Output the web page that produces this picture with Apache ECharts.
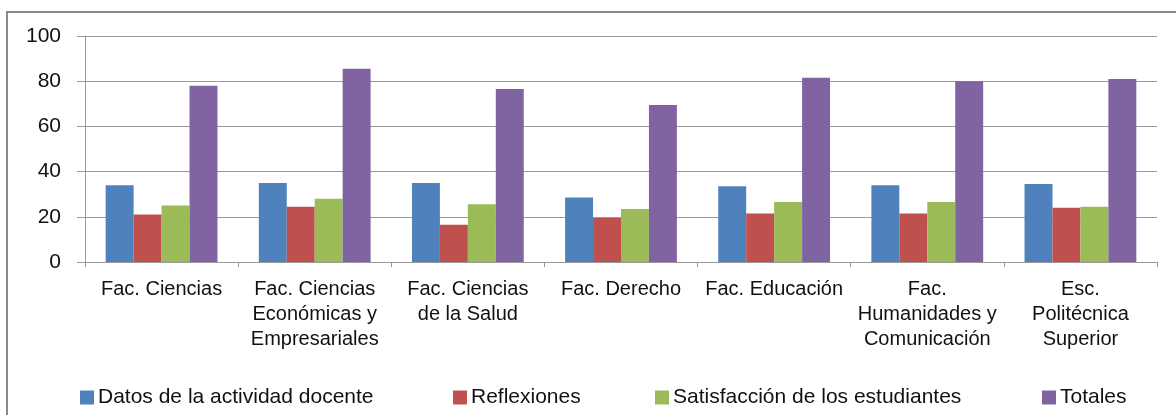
<!DOCTYPE html>
<html>
<head>
<meta charset="utf-8">
<script src="https://cdn.jsdelivr.net/npm/echarts@6/dist/echarts.min.js"></script>
<style>
html, body { margin: 0; padding: 0; background: #fff; }
#chart { width: 1176px; height: 415px; }
</style>
</head>
<body>
<div id="chart"></div>
<script>
// facultades (con saltos de línea como en el original)
const categories = [
  'Fac. Ciencias',
  'Fac. Ciencias\nEconómicas y\nEmpresariales',
  'Fac. Ciencias\nde la Salud',
  'Fac. Derecho',
  'Fac. Educación',
  'Fac.\nHumanidades y\nComunicación',
  'Esc.\nPolitécnica\nSuperior'
]
const seriesNames = ['Datos de la actividad docente', 'Reflexiones', 'Satisfacción de los estudiantes', 'Totales']
const datosDocente = [34, 35, 35, 28.5, 33.5, 34, 34.5]
const reflexiones = [21, 24.5, 16.5, 19.5, 21.5, 21.5, 24]
const satisfaccion = [25, 28, 25.5, 23.5, 26.5, 26.5, 24.5]
const totales = [78, 85.5, 76.5, 69.5, 81.5, 80, 81]
const yTicks = [0, 20, 40, 60, 80, 100]

const colors = ['#4F81BD', '#C0504D', '#9BBB59', '#8064A2']
const values = [datosDocente, reflexiones, satisfaccion, totales]
const font = 'Arial, "Liberation Sans", sans-serif'
const gray = '#9a9a9a'

const chart = echarts.init(document.getElementById('chart'))

// una leyenda por serie, para colocarlas como en Excel
const legendLeft = [75, 448, 650, 1037]
const legends = seriesNames.map((name, i) => ({
  data: [name],
  left: legendLeft[i],
  top: 382,
  icon: 'rect',
  itemWidth: 14,
  itemHeight: 14,
  textStyle: { fontFamily: font, fontSize: 21, color: '#111', padding: [0, 0, 0, -1] }
}))

chart.setOption({
  animation: false,
  color: colors,
  graphic: [{
    type: 'rect',
    shape: { x: 7, y: 12, width: 1300, height: 600 },
    style: { fill: 'none', stroke: '#8a8a8a', lineWidth: 2 }
  }],
  legend: legends,
  grid: { left: 85, right: 19, top: 36, bottom: 153 },
  xAxis: {
    type: 'category',
    data: categories,
    axisLine: { lineStyle: { color: gray, width: 1 } },
    axisTick: { show: true, length: 5, lineStyle: { color: gray } },
    axisLabel: {
      interval: 0,
      margin: 15,
      fontFamily: font,
      fontSize: 20,
      lineHeight: 25,
      color: '#111',
      align: 'center'
    }
  },
  yAxis: {
    type: 'value',
    min: yTicks[0],
    max: yTicks[yTicks.length - 1],
    interval: 20,
    axisLine: { show: true, lineStyle: { color: gray, width: 1 } },
    axisTick: { show: true, length: 8, lineStyle: { color: gray } },
    splitLine: { lineStyle: { color: gray, width: 1 } },
    axisLabel: { margin: 24, fontFamily: font, fontSize: 21, color: '#111' }
  },
  series: seriesNames.map((name, i) => ({
    name: name,
    type: 'bar',
    data: values[i],
    barGap: 0,
    barCategoryGap: '27%',
    itemStyle: { color: colors[i] }
  }))
})
</script>
</body>
</html>
